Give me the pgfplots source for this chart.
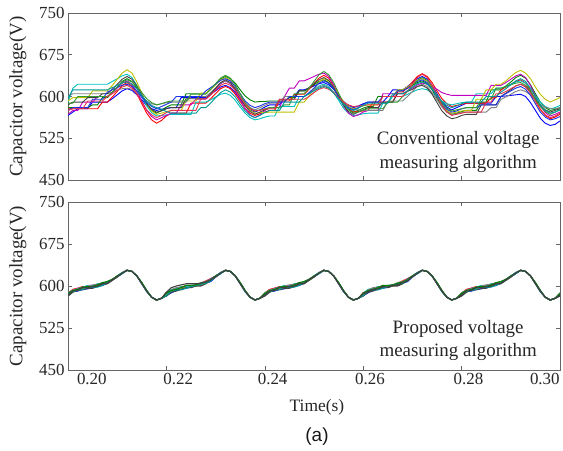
\documentclass[border=0pt]{standalone}
\usepackage{fontspec}
\setmainfont{Liberation Serif}
\newfontfamily\arialfont{Liberation Sans}
\usepackage{pgfplots}
\usepackage{pgfplotstable}
\pgfplotsset{compat=1.18}

\definecolor{mblue}{rgb}{0,0,1}
\definecolor{mgreen}{rgb}{0,0.5,0}
\definecolor{mred}{rgb}{1,0,0}
\definecolor{mcyan}{rgb}{0,0.75,0.75}
\definecolor{mmag}{rgb}{0.75,0,0.75}
\definecolor{molive}{rgb}{0.75,0.75,0}
\definecolor{mgray}{rgb}{0.5,0.5,0.5}
\definecolor{mdark}{rgb}{0.25,0.25,0.25}
\definecolor{mblueb}{rgb}{0.1,0.2,0.9}
\definecolor{mgreenb}{rgb}{0.2,0.6,0.2}
\definecolor{mredb}{rgb}{0.9,0.2,0.3}
\definecolor{mteal}{rgb}{0,0.6,0.6}

% Conventional algorithm: 12 capacitor voltages
\pgfplotstableread{
t a b c d e f g h i j k l
0.200 566 580 578 590 568 592 600 585 575 588 575 598
0.201 572 580 578 615 575 598 605 590 580 588 578 612
0.202 578 580 578 622 575 598 605 590 580 600 578 612
0.203 578 580 578 622 590 598 605 590 580 600 578 612
0.204 578 580 578 622 590 598 605 598 580 600 592 612
0.205 590 585 578 622 590 610 605 598 595 600 592 612
0.206 590 585 578 622 600 610 605 598 595 600 592 612
0.207 590 598 590 622 600 610 605 605 595 600 592 612
0.208 590 598 590 622 600 610 605 605 608 600 600 612
0.209 596 607 599 627 607 620 608 613 612 608 605 616
0.210 603 617 609 632 615 631 611 622 616 617 611 620
0.211 610 627 620 637 624 642 614 631 620 626 617 624
0.212 614 632 625 640 628 648 615 636 622 630 620 626
0.213 611 627 619 634 622 642 613 631 618 626 615 622
0.214 603 615 605 620 609 626 607 619 610 618 604 614
0.215 594 600 587 601 592 606 599 603 599 607 590 602
0.216 584 585 570 583 575 587 592 587 589 596 576 591
0.217 578 575 558 571 564 574 587 577 582 589 567 584
0.218 575 570 552 565 558 568 585 572 578 585 562 580
0.219 577 575 557 566 562 570 587 574 582 587 566 577
0.220 579 581 565 567 566 573 589 578 586 590 571 573
0.221 580 585 570 568 570 575 590 580 590 592 575 570
0.222 580 585 570 568 570 575 590 580 600 592 575 570
0.223 598 585 570 568 585 575 590 580 600 592 575 570
0.224 598 605 570 568 585 592 590 596 600 592 575 570
0.225 598 605 588 568 585 592 600 596 600 604 575 570
0.226 598 605 588 590 595 592 600 596 600 604 575 570
0.227 598 605 588 590 595 606 600 596 600 604 596 580
0.228 598 605 588 590 595 606 600 596 610 604 596 580
0.229 604 613 596 594 603 613 607 605 616 613 603 588
0.230 610 622 605 599 613 621 615 615 622 623 611 598
0.231 617 631 614 604 623 630 624 625 629 633 620 607
0.232 620 636 618 606 628 634 628 630 632 638 624 612
0.233 616 632 614 602 623 629 624 625 628 633 620 608
0.234 607 624 604 593 610 617 614 613 618 621 611 599
0.235 595 612 591 581 594 601 601 598 605 605 598 586
0.236 584 601 578 570 578 585 588 583 592 589 586 574
0.237 576 594 570 562 567 575 580 573 584 579 578 566
0.238 572 590 566 558 562 570 576 568 580 574 574 562
0.239 576 591 569 560 567 571 580 572 583 576 575 566
0.240 581 591 572 563 575 571 584 576 587 578 577 571
0.241 585 592 575 565 580 572 588 580 590 580 578 575
0.242 585 592 575 565 580 572 588 580 590 580 578 575
0.243 585 592 592 582 580 572 588 595 590 580 595 575
0.244 600 592 592 582 600 572 600 595 590 585 595 590
0.245 600 598 592 582 615 572 600 595 600 585 595 590
0.246 600 598 604 582 615 572 600 595 600 605 595 590
0.247 612 610 604 600 628 590 600 610 600 605 595 590
0.248 612 610 604 600 628 590 600 610 600 605 595 600
0.249 615 615 613 606 632 601 605 616 607 615 600 605
0.250 619 621 623 612 636 613 611 623 615 627 607 610
0.251 623 627 633 619 640 626 617 630 624 639 613 615
0.252 625 630 638 622 642 632 620 634 628 645 616 618
0.253 621 625 633 618 636 628 616 629 624 639 613 615
0.254 613 614 620 607 621 617 608 616 614 625 607 606
0.255 602 600 604 593 601 604 597 600 601 606 598 596
0.256 591 586 588 579 583 591 587 584 588 588 590 585
0.257 584 577 577 570 570 582 580 573 580 576 585 578
0.258 580 572 572 566 564 578 576 568 576 570 582 575
0.259 583 575 573 567 567 580 576 572 580 572 583 579
0.260 587 579 574 569 572 583 575 576 586 576 584 584
0.261 590 582 575 570 575 585 575 580 590 578 585 588
0.262 590 582 590 570 575 585 575 580 590 578 585 588
0.263 590 600 590 570 575 585 575 580 590 578 585 588
0.264 590 600 590 588 605 600 575 590 600 578 600 588
0.265 600 600 590 588 605 600 592 590 600 590 600 588
0.266 612 600 590 600 605 600 592 590 600 590 600 605
0.267 612 610 608 600 605 612 592 605 610 590 600 605
0.268 612 610 608 600 605 612 592 605 610 600 600 605
0.269 618 615 616 604 610 617 600 609 615 609 610 610
0.270 625 620 626 608 615 623 609 613 621 619 622 617
0.271 632 625 636 612 621 629 618 618 627 629 634 623
0.272 636 628 641 614 624 632 622 620 630 634 640 626
0.273 631 623 636 612 622 627 618 615 625 629 634 622
0.274 620 612 625 606 618 615 607 604 614 618 620 614
0.275 605 597 610 599 613 600 594 589 600 603 602 602
0.276 590 582 596 592 607 585 581 574 586 588 584 591
0.277 581 573 587 587 604 575 572 565 577 579 572 584
0.278 576 568 582 585 602 570 568 560 572 574 566 580
0.279 580 570 584 587 602 572 569 562 574 576 568 583
0.280 584 573 586 589 602 574 571 566 578 578 570 587
0.281 588 575 588 590 602 575 572 568 580 580 572 590
0.282 588 575 588 590 602 575 572 568 580 580 572 590
0.283 588 575 588 605 602 595 572 568 580 580 572 590
0.284 588 590 588 605 602 595 572 585 585 595 572 590
0.285 588 590 588 605 602 612 572 585 585 595 590 600
0.286 588 612 598 605 620 612 580 585 585 595 590 600
0.287 600 612 598 615 620 622 580 585 585 615 605 600
0.288 600 612 612 615 620 622 595 600 600 615 605 608
0.289 601 619 617 618 625 628 599 606 605 618 609 614
0.290 602 626 622 622 631 636 604 612 610 621 614 621
0.291 603 634 627 626 637 643 609 619 615 624 619 628
0.292 604 638 630 628 640 647 612 622 618 625 622 632
0.293 600 633 624 624 634 642 609 618 613 620 617 627
0.294 589 621 611 615 620 632 603 608 602 610 606 615
0.295 575 605 594 602 601 617 594 596 587 595 591 600
0.296 561 590 577 590 583 604 586 584 572 582 576 585
0.297 552 580 566 582 571 595 581 576 563 573 567 575
0.298 548 575 560 578 565 590 578 572 558 568 562 570
0.299 550 577 563 580 568 594 578 575 560 572 565 572
0.300 556 580 568 584 572 598 580 578 564 576 570 576
}\topdata

% Proposed algorithm: 10 capacitor voltages
\pgfplotstableread{
t a b c d e f g h i j
0.200 587 583 585 584 586 588 582 585 587 584
0.201 594 590 592 589 591 593 589 590 592 591
0.202 596 591 596 594 595 595 593 592 594 592
0.203 599 594 596 595 598 597 593 594 598 597
0.204 599 595 600 597 601 600 596 598 599 597
0.205 601 597 600 600 600 602 596 598 599 599
0.206 602 600 603 601 604 603 599 598 602 600
0.207 605 601 603 602 604 606 602 601 606 604
0.208 607 605 607 606 608 607 604 606 608 605
0.209 611 611 612 610 611 612 610 611 612 611
0.210 618 616 617 616 618 617 616 617 618 617
0.211 623 622 624 623 624 623 623 622 623 623
0.212 628 628 628 628 628 628 628 628 628 628
0.213 626 626 626 626 626 626 626 626 626 626
0.214 618 618 618 618 618 618 618 618 618 618
0.215 606 604 605 605 606 604 605 605 606 604
0.216 592 590 591 591 592 590 591 590 592 591
0.217 580 580 580 580 580 580 580 580 580 580
0.218 575 575 575 575 575 575 575 575 575 575
0.219 578 578 578 578 578 578 578 578 578 578
0.220 588 583 585 584 587 586 582 583 587 589
0.221 592 588 593 590 594 593 589 591 592 597
0.222 596 592 595 595 595 597 591 593 594 600
0.223 597 595 598 596 599 598 594 593 597 602
0.224 600 596 598 597 599 601 597 596 601 604
0.225 600 598 600 599 601 600 597 599 601 604
0.226 601 601 602 600 601 602 600 601 602 604
0.227 605 601 603 602 604 606 600 603 605 605
0.228 609 605 607 604 606 608 604 605 607 607
0.229 613 608 613 611 612 612 610 609 611 611
0.230 618 616 617 616 618 617 616 617 618 617
0.231 623 622 624 623 624 623 623 622 623 623
0.232 628 628 628 628 628 628 628 628 628 628
0.233 626 626 626 626 626 626 626 626 626 626
0.234 618 618 618 618 618 618 618 618 618 618
0.235 606 604 605 605 606 604 605 605 606 604
0.236 592 590 591 591 592 590 591 590 592 591
0.237 580 580 580 580 580 580 580 580 580 580
0.238 575 575 575 575 575 575 575 575 575 575
0.239 578 578 578 578 578 578 578 578 578 578
0.240 587 583 585 584 586 588 582 585 587 584
0.241 594 590 592 589 591 593 589 590 592 591
0.242 596 591 596 594 595 595 593 592 594 592
0.243 599 594 596 595 598 597 593 594 598 597
0.244 599 595 600 597 601 600 596 598 599 597
0.245 601 597 600 600 600 602 596 598 599 599
0.246 602 600 603 601 604 603 599 598 602 600
0.247 605 601 603 602 604 606 602 601 606 604
0.248 607 605 607 606 608 607 604 606 608 605
0.249 611 611 612 610 611 612 610 611 612 611
0.250 618 616 617 616 618 617 616 617 618 617
0.251 623 622 624 623 624 623 623 622 623 623
0.252 628 628 628 628 628 628 628 628 628 628
0.253 626 626 626 626 626 626 626 626 626 626
0.254 618 618 618 618 618 618 618 618 618 618
0.255 606 604 605 605 606 604 605 605 606 604
0.256 592 590 591 591 592 590 591 590 592 591
0.257 580 580 580 580 580 580 580 580 580 580
0.258 575 575 575 575 575 575 575 575 575 575
0.259 578 578 578 578 578 578 578 578 578 578
0.260 588 583 585 584 587 586 582 583 587 586
0.261 592 588 593 590 594 593 589 591 592 590
0.262 596 592 595 595 595 597 591 593 594 594
0.263 597 595 598 596 599 598 594 593 597 595
0.264 600 596 598 597 599 601 597 596 601 599
0.265 600 598 600 599 601 600 597 599 601 598
0.266 601 601 602 600 601 602 600 601 602 601
0.267 605 601 603 602 604 606 600 603 605 602
0.268 609 605 607 604 606 608 604 605 607 606
0.269 613 608 613 611 612 612 610 609 611 609
0.270 618 616 617 616 618 617 616 617 618 617
0.271 623 622 624 623 624 623 623 622 623 623
0.272 628 628 628 628 628 628 628 628 628 628
0.273 626 626 626 626 626 626 626 626 626 626
0.274 618 618 618 618 618 618 618 618 618 618
0.275 606 604 605 605 606 604 605 605 606 604
0.276 592 590 591 591 592 590 591 590 592 591
0.277 580 580 580 580 580 580 580 580 580 580
0.278 575 575 575 575 575 575 575 575 575 575
0.279 578 578 578 578 578 578 578 578 578 578
0.280 587 583 585 584 586 588 582 585 587 584
0.281 594 590 592 589 591 593 589 590 592 591
0.282 596 591 596 594 595 595 593 592 594 592
0.283 599 594 596 595 598 597 593 594 598 597
0.284 599 595 600 597 601 600 596 598 599 597
0.285 601 597 600 600 600 602 596 598 599 599
0.286 602 600 603 601 604 603 599 598 602 600
0.287 605 601 603 602 604 606 602 601 606 604
0.288 607 605 607 606 608 607 604 606 608 605
0.289 611 611 612 610 611 612 610 611 612 611
0.290 618 616 617 616 618 617 616 617 618 617
0.291 623 622 624 623 624 623 623 622 623 623
0.292 628 628 628 628 628 628 628 628 628 628
0.293 626 626 626 626 626 626 626 626 626 626
0.294 618 618 618 618 618 618 618 618 618 618
0.295 606 604 605 605 606 604 605 605 606 604
0.296 592 590 591 591 592 590 591 590 592 591
0.297 580 580 580 580 580 580 580 580 580 580
0.298 575 575 575 575 575 575 575 575 575 575
0.299 578 578 578 578 578 578 578 578 578 578
0.300 587 583 585 584 586 588 582 585 587 584
}\botdata

\tikzset{note/.style={align=center, font=\fontsize{19}{24}\selectfont, text=black!85}}

\pgfplotsset{
  panel/.style={
    scale only axis, width=492bp,
    xmin=0.2, xmax=0.3, ymin=450, ymax=750,
    xtick={0.2,0.22,0.24,0.26,0.28,0.3},
    ytick={450,525,600,675,750},
    yticklabels={450,525,600,675,750},
    tick align=inside, tick pos=both, major tick length=4bp,
    axis line style={draw=black!60, line width=0.8pt},
    tick style={draw=black!60, line width=0.6pt},
    ticklabel style={font=\fontsize{17}{17}\selectfont, text=black!85},
    /pgf/number format/assume math mode=true,
    ylabel={Capacitor voltage(V)},
    every axis y label/.style={at={(axis description cs:-0.102,0.5)}, rotate=90, anchor=center, font=\fontsize{19}{19}\selectfont, text=black!85},
    every axis plot/.append style={line width=0.9pt, mark=none},
  },
}

\begin{document}
\begin{tikzpicture}
\useasboundingbox (0,0) rectangle (563bp,451bp);

\begin{axis}[panel, at={(68bp,271bp)}, anchor=south west, height=167bp, xticklabels={}]
\addplot[mblue]   table[x=t,y=a] {\topdata};
\addplot[mgreen]  table[x=t,y=b] {\topdata};
\addplot[mred]    table[x=t,y=c] {\topdata};
\addplot[mcyan]   table[x=t,y=d] {\topdata};
\addplot[mmag]    table[x=t,y=e] {\topdata};
\addplot[molive]  table[x=t,y=f] {\topdata};
\addplot[mgray]   table[x=t,y=g] {\topdata};
\addplot[mdark]   table[x=t,y=h] {\topdata};
\addplot[mblueb]  table[x=t,y=i] {\topdata};
\addplot[mgreenb] table[x=t,y=j] {\topdata};
\addplot[mredb]   table[x=t,y=k] {\topdata};
\addplot[mteal]   table[x=t,y=l] {\topdata};
\node[note] at (rel axis cs:0.793,0.17) {Conventional voltage\\measuring algorithm};
\end{axis}

\begin{axis}[panel, at={(68bp,81bp)}, anchor=south west, height=168bp,
  xticklabels={\makebox[0pt][l]{\hspace{9bp}0.20},
               \makebox[0pt][l]{\hspace{-3bp}0.22},
               \makebox[0pt][l]{\hspace{-7bp}0.24},
               \makebox[0pt][l]{\hspace{-8bp}0.26},
               \makebox[0pt][l]{\hspace{-8bp}0.28},
               \makebox[0pt][l]{\hspace{-30bp}0.30}},
  xlabel={Time(s)},
  every axis x label/.style={at={(axis description cs:0.506,-0.22)}, anchor=center, font=\fontsize{17.5}{17.5}\selectfont, text=black!85},
  every axis plot/.append style={line width=1.1pt}]
\addplot[mred]    table[x=t,y=a] {\botdata};
\addplot[mblue]   table[x=t,y=b] {\botdata};
\addplot[mmag]    table[x=t,y=c] {\botdata};
\addplot[molive]  table[x=t,y=d] {\botdata};
\addplot[mcyan]   table[x=t,y=e] {\botdata};
\addplot[mgray]   table[x=t,y=f] {\botdata};
\addplot[mdark]   table[x=t,y=g] {\botdata};
\addplot[mteal]   table[x=t,y=h] {\botdata};
\addplot[mgreen]  table[x=t,y=i] {\botdata};
\addplot[mdark]   table[x=t,y=j] {\botdata};
\node[note] at (rel axis cs:0.793,0.176) {Proposed voltage\\measuring algorithm};
\end{axis}

\node[font=\arialfont\fontsize{19}{19}\selectfont, text=black!90] at (317bp,14bp) {(a)};
\end{tikzpicture}
\end{document}
